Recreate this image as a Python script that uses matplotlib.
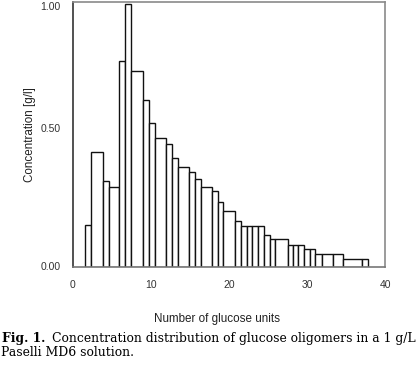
import numpy as np
import matplotlib
matplotlib.use("Agg")
import matplotlib.pyplot as plt

# bin edges (number of glucose units) and concentrations [g/l]
bin_edges = [1.54, 2.31, 3.81, 4.58, 5.94, 6.67, 7.40, 9.01, 9.74, 10.51,
             11.92, 12.65, 13.42, 14.87, 15.64, 16.37, 17.78, 18.55, 19.27, 20.77,
             21.54, 22.27, 22.99, 23.76, 24.53, 25.26, 25.90, 27.53, 28.24, 28.88,
             29.65, 30.38, 31.03, 31.88, 33.37, 34.65, 37.01, 37.86]
concentration = [0.159, 0.433, 0.323, 0.302, 0.776, 0.994, 0.741, 0.630, 0.544, 0.488,
                 0.466, 0.412, 0.378, 0.357, 0.333, 0.302, 0.285, 0.247, 0.212, 0.175,
                 0.156, 0.156, 0.156, 0.156, 0.121, 0.105, 0.105, 0.083, 0.083, 0.083,
                 0.068, 0.068, 0.049, 0.049, 0.049, 0.030, 0.030]
x_ticks = [0, 10, 20, 30, 40]
y_ticks = [0.0, 0.5, 1.0]
y_ticklabels = ["0.00", "0.50", "1.00"]

W, H = 420, 366
fig = plt.figure(figsize=(W / 100, H / 100), dpi=100)
ax = fig.add_axes([73 / W, 1 - 267 / H, (385 - 73) / W, (267 - 2) / H])

edges = np.array(bin_edges)
ax.bar(edges[:-1], concentration, width=np.diff(edges), align="edge",
       color="white", edgecolor="#111111", linewidth=1.0)

ax.set_xlim(0, 40)
ax.set_ylim(0, 1.0)
ax.set_xticks(x_ticks)
ax.set_yticks(y_ticks)
ax.set_yticklabels(y_ticklabels)
ax.tick_params(length=0, labelsize=7.5, labelcolor="#333333", pad=9)
for lab in ax.get_xticklabels() + ax.get_yticklabels():
    lab.set_family("Liberation Sans")
# keep the top label inside the figure like the original
ylabs = ax.get_yticklabels()
ylabs[0].set_verticalalignment("center")
ylabs[1].set_verticalalignment("bottom")
ylabs[2].set_verticalalignment("top")

ax.spines["left"].set_color("#333333")
ax.spines["bottom"].set_color("#777777")
ax.spines["top"].set_color("#8a8a8a")
ax.spines["right"].set_color("#8a8a8a")
for s in ax.spines.values():
    s.set_linewidth(1.2)

sans = {"family": "Liberation Sans", "size": 8.4, "color": "#222222"}
fig.text(217 / W, 1 - 319 / H, "Number of glucose units", ha="center", va="center", fontdict=sans)
fig.text(30 / W, 1 - 135 / H, "Concentration [g/l]", ha="center", va="center",
         rotation=90, fontdict=sans)

# caption, sized so the first line spans the figure width
serif = {"family": "DejaVu Serif", "size": 9, "color": "black"}
t_bold = fig.text(2 / W, 1 - 342 / H, "Fig. 1.", fontweight="bold", va="baseline", fontdict=serif)
t_line1 = fig.text(52 / W, 1 - 342 / H, "Concentration distribution of glucose oligomers in a 1 g/L",
                   va="baseline", fontdict=serif)
t_line2 = fig.text(1 / W, 1 - 356 / H, "Paselli MD6 solution.", va="baseline", fontdict=serif)

renderer = fig.canvas.get_renderer()
w = t_line1.get_window_extent(renderer).width
size = 9 * (418 - 52) / w
for t in (t_bold, t_line1, t_line2):
    t.set_fontsize(size)

fig.savefig("out.png", dpi=100)
